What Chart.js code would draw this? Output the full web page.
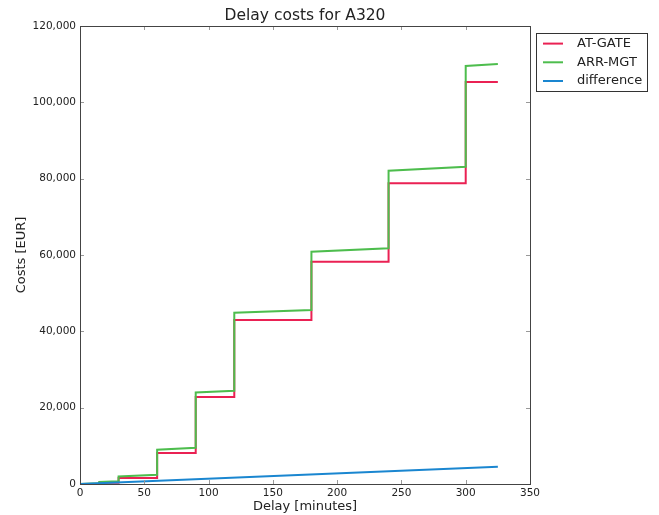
<!DOCTYPE html>
<html>
<head>
<meta charset="utf-8">
<title>Delay costs for A320</title>
<script src="https://cdn.jsdelivr.net/npm/chart.js@4/dist/chart.umd.min.js"></script>
<style>
	html, body { margin: 0; padding: 0; background: #fff; }
	canvas { display: block; }
</style>
</head>
<body>
<canvas id="chart" width="659" height="515"></canvas>
<script>
// values (step chart, so each jump has two points)
var delayMinutes = [0, 15, 15, 30, 30, 60, 60, 90, 90, 120, 120, 180, 180, 240, 240, 300, 300, 325];
var atGateCost = [0, 0, 350, 350, 1570, 1570, 8100, 8100, 22800, 22800, 43000, 43000, 58250, 58250, 78800, 78800, 105350, 105350];
var arrMgtCost = [0, 210, 560, 700, 1990, 2430, 8980, 9500, 23970, 24420, 44900, 45600, 60870, 61760, 82070, 83110, 109550, 110070];
var differenceMinutes = [0, 325];
var differenceCost = [0, 4500];

var xTickValues = [0, 50, 100, 150, 200, 250, 300, 350];
var yTickValues = [0, 20000, 40000, 60000, 80000, 100000, 120000];

(function (Chart) {
	'use strict';

	var FONT = 'DejaVu Sans';
	var TEXT = '#222';

	function toPoints(xs, ys) {
		return xs.map(function (x, i) {
			return { x: x, y: ys[i] };
		});
	}

	function fixedTicks(values) {
		return function (scale) {
			scale.ticks = values.map(function (v) {
				return { value: v };
			});
		};
	}

	// matplotlib style: box round the axes, ticks pointing inwards on all sides
	var frameAndTicks = {
		id: 'frameAndTicks',
		afterDatasetsDraw: function (chart) {
			var ctx = chart.ctx,
				a = chart.chartArea,
				xs = chart.scales.x,
				ys = chart.scales.y,
				len = 4;

			ctx.save();
			ctx.strokeStyle = '#999';
			ctx.lineWidth = 1;
			ctx.beginPath();
			xs.ticks.forEach(function (t) {
				var px = Math.round(xs.getPixelForValue(t.value)) + 0.5;
				ctx.moveTo(px, a.bottom);
				ctx.lineTo(px, a.bottom - len);
				ctx.moveTo(px, a.top);
				ctx.lineTo(px, a.top + len);
			});
			ys.ticks.forEach(function (t) {
				var py = Math.round(ys.getPixelForValue(t.value)) + 0.5;
				ctx.moveTo(a.left, py);
				ctx.lineTo(a.left + len, py);
				ctx.moveTo(a.right, py);
				ctx.lineTo(a.right - len, py);
			});
			ctx.stroke();

			ctx.strokeStyle = '#444';
			ctx.strokeRect(Math.round(a.left) + 0.5, Math.round(a.top) + 0.5,
				Math.round(a.right - a.left), Math.round(a.bottom - a.top));
			ctx.restore();
		}
	};

	// boxed legend outside the axes, top right
	var boxLegend = {
		id: 'boxLegend',
		afterDraw: function (chart) {
			var ctx = chart.ctx,
				a = chart.chartArea,
				left = a.right + 6,
				top = a.top + 7,
				width = 111,
				height = 58,
				rowH = 18.7;

			ctx.save();
			ctx.fillStyle = '#fff';
			ctx.fillRect(left, top, width, height);
			ctx.strokeStyle = '#333';
			ctx.lineWidth = 1;
			ctx.strokeRect(Math.round(left) + 0.5, Math.round(top) + 0.5, width, height);

			ctx.font = '13px "' + FONT + '"';
			ctx.textBaseline = 'middle';
			ctx.fillStyle = TEXT;
			chart.data.datasets.forEach(function (ds, i) {
				var y = top + 10.6 + i * rowH;
				ctx.strokeStyle = ds.borderColor;
				ctx.lineWidth = 2;
				ctx.beginPath();
				ctx.moveTo(left + 7, y);
				ctx.lineTo(left + 27, y);
				ctx.stroke();
				ctx.fillText(ds.label, left + 41, y);
			});
			ctx.restore();
		}
	};

	function line(label, color, order, data) {
		return {
			label: label,
			data: data,
			borderColor: color,
			backgroundColor: color,
			borderWidth: 2,
			pointRadius: 0,
			tension: 0,
			fill: false,
			clip: false,
			order: order
		};
	}

	new Chart(document.getElementById('chart'), {
		type: 'line',
		data: {
			datasets: [
				line('AT-GATE', '#ea2153', 3, toPoints(delayMinutes, atGateCost)),
				line('ARR-MGT', '#4dbd4d', 2, toPoints(delayMinutes, arrMgtCost)),
				line('difference', '#1a86d0', 1, toPoints(differenceMinutes, differenceCost))
			]
		},
		options: {
			responsive: false,
			animation: false,
			layout: { padding: { left: 0, right: 129, top: 0, bottom: 0 } },
			plugins: {
				legend: { display: false },
				tooltip: { enabled: false },
				title: {
					display: true,
					fullSize: false,
					text: 'Delay costs for A320',
					color: TEXT,
					font: { family: FONT, size: 15.5, weight: 'normal', lineHeight: 1.2 },
					padding: { top: 6.7, bottom: 0.7 }
				}
			},
			scales: {
				x: {
					type: 'linear',
					min: 0,
					max: 350,
					afterBuildTicks: fixedTicks(xTickValues),
					afterFit: function (scale) { scale.height = 31; },
					grid: { display: false, drawTicks: false },
					border: { display: false },
					ticks: {
						color: TEXT,
						padding: 3,
						maxRotation: 0,
						font: { family: FONT, size: 10.5 }
					},
					title: {
						display: true,
						text: 'Delay [minutes]',
						color: TEXT,
						font: { family: FONT, size: 13, lineHeight: 1.2 },
						padding: { top: 0, bottom: 1 }
					}
				},
				y: {
					type: 'linear',
					min: 0,
					max: 120000,
					afterBuildTicks: fixedTicks(yTickValues),
					afterFit: function (scale) { scale.width = 80; },
					grid: { display: false, drawTicks: false },
					border: { display: false },
					ticks: {
						color: TEXT,
						padding: 4,
						font: { family: FONT, size: 10.5 },
						callback: function (v) { return v.toLocaleString('en-US'); }
					},
					title: {
						display: true,
						text: 'Costs [EUR]',
						color: TEXT,
						font: { family: FONT, size: 13, lineHeight: 1.2 },
						padding: { top: 14, bottom: 0 }
					}
				}
			}
		},
		plugins: [frameAndTicks, boxLegend]
	});
}(this.Chart));
</script>
</body>
</html>
